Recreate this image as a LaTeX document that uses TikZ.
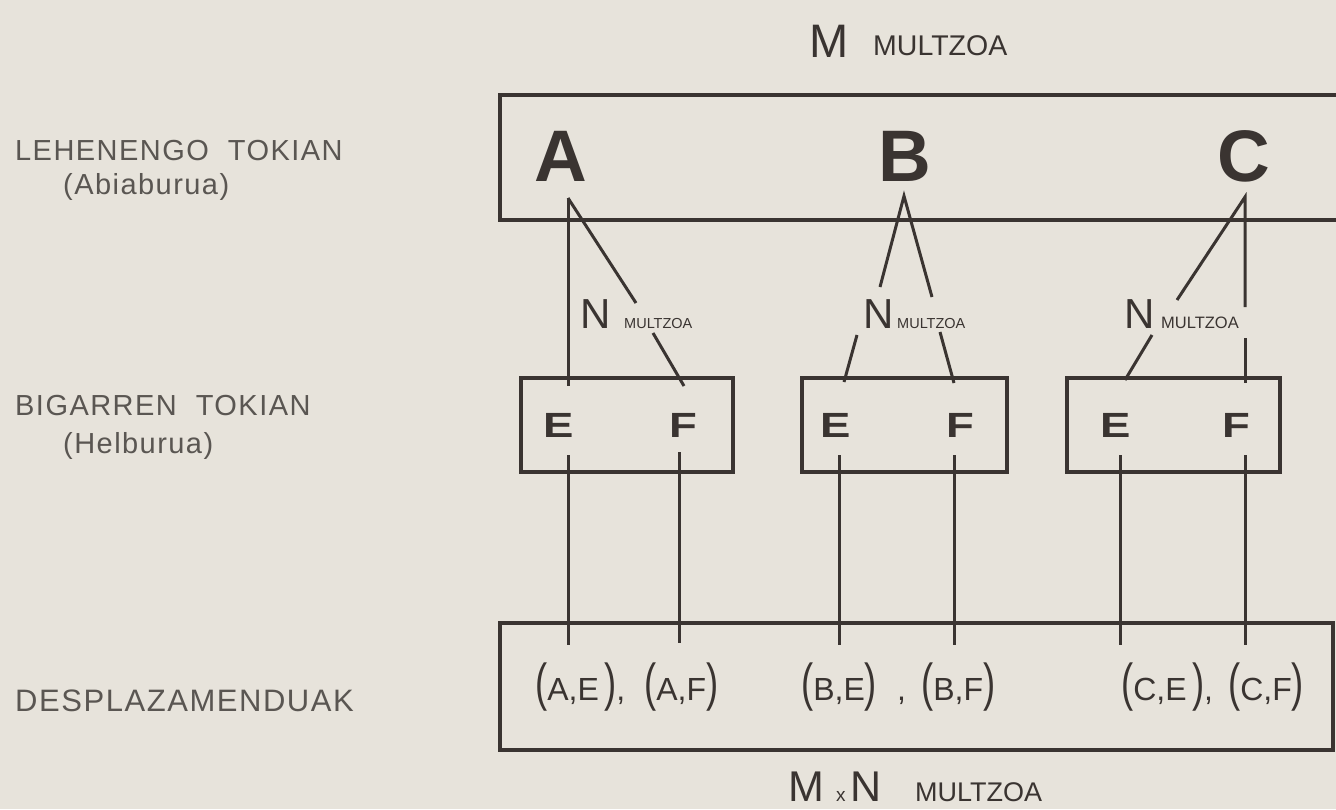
\documentclass[tikz,border=0pt]{standalone}
\usepackage{fontspec}
\usepackage{graphicx}
\setmainfont{Liberation Sans}
\newfontfamily\sidefont[LetterSpace=5]{Liberation Sans}
\definecolor{paper}{HTML}{E7E3DB}
\definecolor{ink}{HTML}{3A3431}
\definecolor{sideink}{HTML}{5A5652}
\newcommand\myLP{\scalebox{0.7}[1]{\fontsize{52}{52}\selectfont(}}
\newcommand\myRP{\scalebox{0.7}[1]{\fontsize{52}{52}\selectfont)}}
\newcommand\wideL[1]{\scalebox{1.3}[1]{#1}}
\begin{document}
\begin{tikzpicture}[x=1pt,y=-1pt,
  ln/.style={line width=3pt, draw=ink},
  boxln/.style={line width=3.6pt, draw=ink},
  smallbox/.style={boxln, rectangle, minimum width=212pt, minimum height=94pt, inner sep=0},
  bigL/.style={font=\fontsize{73}{73}\selectfont\bfseries, text=ink, inner sep=0, anchor=base},
  efL/.style={font=\fontsize{35}{35}\selectfont\bfseries, text=ink, inner sep=0, anchor=base},
  side/.style={font=\sidefont\fontsize{29}{32}\selectfont, text=sideink, inner sep=0, anchor=base west},
  hand/.style={text=ink, inner sep=0, anchor=base west},
  pair/.style={hand, font=\fontsize{32}{32}\selectfont},
]
\useasboundingbox (0,0) rectangle (1336,809);
\fill[paper] (0,0) rectangle (1336,809);

% ---- boxes
\draw[boxln] (1340,95) -| (500,220) -- (1340,220);
\node[smallbox] (box1) at (627,425) {};
\node[smallbox, minimum width=205pt] (box2) at (904.5,425) {};
\node[smallbox, minimum width=213pt] (box3) at (1173.5,425) {};
\node[boxln, rectangle, minimum width=833pt, minimum height=127pt, inner sep=0] (pairsbox) at (916.5,686.5) {};

% ---- side labels
\node[side] (l1) at (15,160) {LEHENENGO\ \ TOKIAN};
\node[side] (l1b) at (63,194) {(Abiaburua)};
\node[side] (l2) at (15,415) {BIGARREN\ \ TOKIAN};
\node[side] (l2b) at (63,453) {(Helburua)};
\node[side, font=\sidefont\fontsize{31}{32}\selectfont] (l3) at (15,711) {DESPLAZAMENDUAK};

% ---- titles
\node[hand, font=\fontsize{47}{47}\selectfont] (Mt) at (809,57) {M};
\node[hand, font=\fontsize{28.5}{29}\selectfont] (Mtm) at (873,55) {MULTZOA};
\node[hand, font=\fontsize{43}{43}\selectfont] (Mb) at (788,801) {M};
\node[hand, font=\fontsize{19}{19}\selectfont] (xb) at (836,801) {x};
\node[hand, font=\fontsize{43}{43}\selectfont] (Nb) at (850,801) {N};
\node[hand, font=\fontsize{27}{28}\selectfont] (Mbm) at (915,801) {MULTZOA};

% ---- first place letters
\node[bigL] (A) at (561,181) {A};
\node[bigL] (B) at (905,181) {B};
\node[bigL] (C) at (1244,181) {C};

% ---- second place letters
\node[efL] (E1) at (559,437) {\wideL{E}};
\node[efL] (F1) at (683,437) {\wideL{F}};
\node[efL] (E2) at (836,437) {\wideL{E}};
\node[efL] (F2) at (960,437) {\wideL{F}};
\node[efL] (E3) at (1116,437) {\wideL{E}};
\node[efL] (F3) at (1236,437) {\wideL{F}};

% ---- N MULTZOA labels
\node[hand, font=\fontsize{42}{42}\selectfont] (NA) at (580,328) {N};
\node[hand, font=\fontsize{14.5}{15}\selectfont] (NAm) at (624,328) {MULTZOA};
\node[hand, font=\fontsize{42}{42}\selectfont] (NB) at (863,328) {N};
\node[hand, font=\fontsize{14.5}{15}\selectfont] (NBm) at (897,328) {MULTZOA};
\node[hand, font=\fontsize{42}{42}\selectfont] (NC) at (1124,328) {N};
\node[hand, font=\fontsize{16.5}{17}\selectfont] (NCm) at (1161,328) {MULTZOA};

% ---- pair labels
\node[pair] (pAE) at (535,700) {\myLP A,E\,\myRP,};
\node[pair] (pAF) at (644,700) {\myLP A,F\myRP};
\node[pair] (pBE) at (801,700) {\myLP B,E\myRP};
\node[pair] (pcomma) at (897,700) {,};
\node[pair] (pBF) at (921,700) {\myLP B,F\myRP};
\node[pair] (pCE) at (1121,700) {\myLP C,E\,\myRP,};
\node[pair] (pCF) at (1228,700) {\myLP C,F\myRP};

% ---- connector points
\coordinate (aT) at (568,198);
\coordinate (aE) at (568,386);
\coordinate (aD1) at (636,303);
\coordinate (aD2) at (653,333);
\coordinate (aF) at (684,386);
\coordinate (aEl) at (568,455);
\coordinate (aEb) at (568,645);
\coordinate (aFl) at (679,452);
\coordinate (aFb) at (679,643);

\coordinate (bT) at (904,196);
\coordinate (bL1) at (880,287);
\coordinate (bR1) at (932,297);
\coordinate (bL2) at (857,335);
\coordinate (bL3) at (844,382);
\coordinate (bR2) at (940,332);
\coordinate (bR3) at (954,383);
\coordinate (bEl) at (839,455);
\coordinate (bEb) at (839,645);
\coordinate (bFl) at (954,455);
\coordinate (bFb) at (954,645);

\coordinate (cT) at (1245,197);
\coordinate (cL1) at (1177,300);
\coordinate (cV1) at (1245,307);
\coordinate (cV2) at (1245,338);
\coordinate (cV3) at (1245,383);
\coordinate (cL2) at (1152,335);
\coordinate (cL3) at (1125,380);
\coordinate (cEl) at (1120,455);
\coordinate (cEb) at (1120,645);
\coordinate (cFl) at (1245,455);
\coordinate (cFb) at (1245,645);

% ---- connectors
\draw[ln] (aT) -- (aE);
\draw[ln] (aT) -- (aD1);
\draw[ln] (aD2) -- (aF);
\draw[ln] (aEl) -- (aEb);
\draw[ln] (aFl) -- (aFb);

\draw[ln] (bL1) -- (bT) -- (bR1);
\draw[ln] (bL2) -- (bL3);
\draw[ln] (bR2) -- (bR3);
\draw[ln] (bEl) -- (bEb);
\draw[ln] (bFl) -- (bFb);

\draw[ln] (cL1) -- (cT) -- (cV1);
\draw[ln] (cV2) -- (cV3);
\draw[ln] (cL2) -- (cL3);
\draw[ln] (cEl) -- (cEb);
\draw[ln] (cFl) -- (cFb);
\end{tikzpicture}
\end{document}
